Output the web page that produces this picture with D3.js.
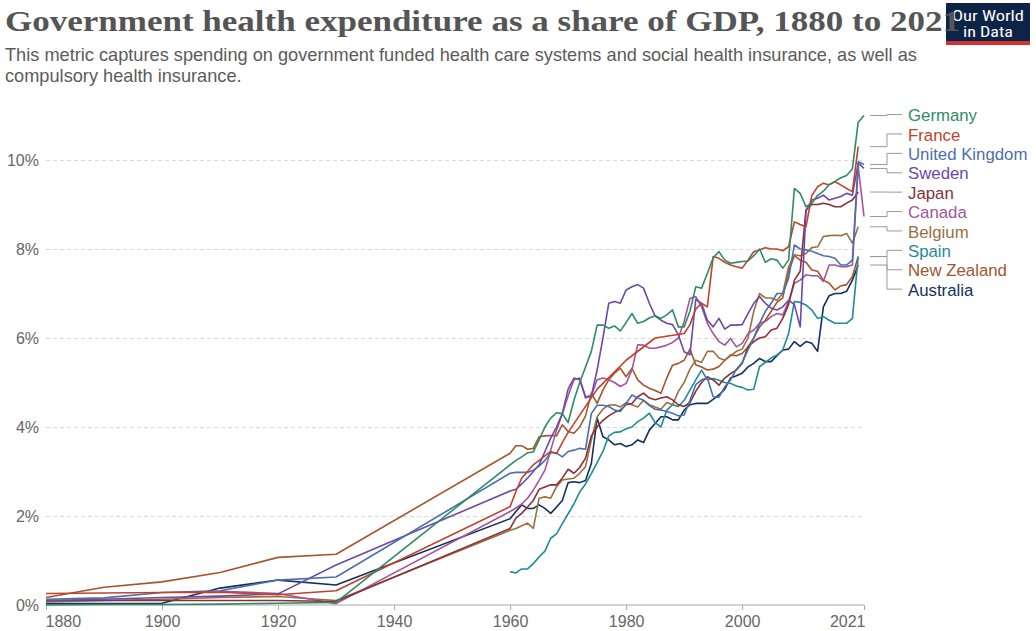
<!DOCTYPE html>
<html><head><meta charset="utf-8">
<script src="https://cdn.jsdelivr.net/npm/d3@7"></script>
<style>body{margin:0;background:#fff} svg{display:block}</style>
</head><body>
<svg id="chart" width="1036" height="631"></svg>
<script>
// ---------- DATA ----------
const years = [1880,1890,1900,1910,1920,1930,
 1960,1961,1962,1963,1964,1965,1966,1967,1968,1969,
 1970,1971,1972,1973,1974,1975,1976,1977,1978,1979,
 1980,1981,1982,1983,1984,1985,1986,1987,1988,1989,
 1990,1991,1992,1993,1994,1995,1996,1997,1998,1999,
 2000,2001,2002,2003,2004,2005,2006,2007,2008,2009,
 2010,2011,2012,2013,2014,2015,2016,2017,2018,2019,
 2020,2021];

const germany = [0.0,0.01,0.01,0.02,0.04,0.06,
 3.15,3.25,3.33,3.42,3.44,3.71,4.0,4.2,4.32,4.3,
 4.1,4.6,5.0,5.35,5.7,6.29,6.29,6.22,6.27,6.16,
 6.35,6.55,6.33,6.37,6.45,6.5,6.44,6.52,6.63,6.25,
 6.25,6.6,7.15,7.12,7.45,7.8,7.94,7.75,7.68,7.7,
 7.72,7.73,7.85,8.0,7.7,7.78,7.75,7.57,7.75,9.36,
 9.25,8.95,9.03,9.2,9.3,9.45,9.52,9.6,9.65,9.8,
 10.85,11.0];

const france = [0.26,0.27,0.28,0.29,0.23,0.32,
 2.21,2.55,2.85,3.0,3.15,3.25,3.35,3.45,3.4,3.65,
 3.88,null,null,null,null,4.85,null,null,null,null,
 5.5,null,null,null,null,6.0,null,null,null,null,
 6.1,6.3,6.65,6.78,6.7,7.83,7.79,7.7,7.64,7.6,
 7.57,7.75,7.94,7.98,8.03,8.0,8.0,7.96,8.05,8.61,
 8.55,8.5,9.2,9.4,9.48,9.44,9.51,9.44,9.36,9.29,
 10.3,null];

const unitedKingdom = [0.13,0.16,0.28,0.32,0.56,0.63,
 2.96,2.98,2.98,2.98,3.03,3.12,3.25,3.42,3.42,3.33,
 3.45,3.48,3.52,3.5,4.3,4.49,4.49,4.46,4.38,4.35,
 4.53,4.72,4.65,4.6,4.48,4.4,4.38,4.35,4.31,4.25,
 4.27,4.6,4.95,5.06,5.1,4.68,4.67,4.9,5.06,5.3,
 5.45,5.73,6.0,6.33,6.6,6.78,7.0,7.0,7.34,8.09,
 8.0,7.98,7.95,7.9,7.85,7.83,7.79,7.64,7.64,7.75,
 9.96,9.9];

const sweden = [0.1,0.13,0.17,0.2,0.25,0.9,
 2.56,2.6,2.72,2.85,3.0,3.15,3.45,3.75,4.0,4.3,
 4.85,5.1,5.06,4.68,4.7,5.28,6.0,6.78,6.82,6.78,
 7.08,7.15,7.2,7.12,6.78,6.49,6.4,6.33,6.3,6.07,
 5.69,5.62,6.87,6.78,6.4,6.25,6.44,6.2,6.29,6.29,
 6.3,6.55,6.78,6.93,6.78,6.67,6.63,6.7,6.85,6.75,
 6.25,8.85,9.1,9.14,9.21,9.1,9.14,9.18,9.25,9.21,
 9.93,9.81];

const japan = [0.1,0.1,0.1,0.1,0.1,0.08,
 1.72,1.95,2.06,2.2,2.35,2.6,2.65,2.7,2.7,2.85,
 3.05,2.96,3.09,3.3,3.8,4.0,4.15,4.25,4.33,4.38,
 4.5,4.53,4.68,4.76,4.65,4.61,4.65,4.68,4.61,4.5,
 4.46,4.55,4.8,5.0,5.13,5.06,4.94,5.1,5.2,5.28,
 5.43,5.8,5.92,6.0,6.03,6.18,6.22,6.44,6.75,7.3,
 7.5,8.88,9.0,9.0,9.03,9.0,8.95,8.95,9.03,9.1,
 9.28,null];

const canada = [null,null,null,0.31,0.26,0.03,
 2.1,2.18,2.27,2.4,2.58,2.8,3.03,3.48,3.93,4.3,
 4.7,5.06,5.1,4.65,4.7,5.06,5.1,5.06,5.0,4.91,
 4.98,5.28,5.85,5.84,5.77,5.77,5.8,5.84,5.9,6.0,
 6.37,6.89,6.93,6.7,6.33,6.1,5.92,5.84,5.99,5.8,
 5.88,6.1,6.18,6.33,6.37,6.48,6.55,6.52,6.82,7.23,
 7.3,7.42,7.4,7.4,7.27,7.64,7.64,7.6,7.6,7.64,
 9.85,8.73];

const belgium = [0.07,0.1,0.13,0.17,0.19,0.1,
 1.68,1.72,1.78,1.84,1.72,2.4,2.43,2.4,2.66,2.81,
 2.83,2.85,2.96,3.11,3.71,4.23,4.4,4.49,4.5,4.45,
 4.55,4.5,4.45,4.6,4.5,4.45,4.4,4.55,4.5,4.8,
 5.0,5.3,5.5,5.45,5.7,5.7,5.55,5.5,5.6,5.7,
 5.75,6.0,6.6,7.0,6.9,6.9,6.85,7.0,7.6,7.87,
 7.85,7.9,8.03,8.05,8.28,8.3,8.31,8.3,8.35,8.13,
 8.5,null];

const spain = [null,null,null,null,null,null,
 0.75,0.72,0.81,0.81,0.93,1.08,1.21,1.5,1.6,1.83,
 2.05,2.27,2.54,2.72,2.95,3.2,3.45,3.8,3.88,3.89,
 3.96,4.0,4.12,4.2,4.31,4.1,4.0,4.38,4.5,4.46,
 4.6,4.83,5.06,5.28,5.06,5.09,5.05,5.0,4.98,4.92,
 4.89,4.83,4.85,5.36,5.45,5.55,5.62,5.73,6.1,6.82,
 6.8,6.74,6.63,6.44,6.48,6.4,6.33,6.33,6.33,6.44,
 7.83,null];

const newZealand = [0.17,0.4,0.52,0.73,1.07,1.14,
 3.41,3.58,3.58,3.5,3.52,3.78,3.8,3.81,3.8,4.05,
 3.9,3.86,4.0,4.25,4.76,4.53,4.83,5.06,5.21,5.32,
 5.13,5.32,5.06,4.94,4.87,4.82,4.76,5.1,5.39,5.43,
 5.5,5.75,5.4,5.35,5.28,5.3,5.36,5.5,5.62,5.6,
 5.65,5.8,6.0,6.25,6.4,6.6,6.8,6.9,7.5,7.85,
 7.75,7.7,7.53,7.5,7.3,7.23,7.08,7.17,7.2,7.38,
 7.83,null];

const australia = [0.03,0.03,0.04,0.38,0.56,0.45,
 1.94,2.1,2.25,2.17,2.17,2.25,2.17,2.06,2.2,2.35,
 2.75,2.77,2.75,2.8,3.18,4.2,3.78,3.71,3.6,3.63,
 3.56,3.6,3.71,3.65,3.93,4.08,4.23,4.23,4.16,4.16,
 4.38,4.5,4.53,4.53,4.53,4.62,4.72,4.85,5.1,5.15,
 5.21,5.35,5.43,5.54,5.47,5.47,5.6,5.73,5.75,5.92,
 5.81,5.92,5.88,5.7,6.7,6.95,7.0,7.0,7.05,7.3,
 7.64,null];

const seriesNames = ["Germany","France","United Kingdom","Sweden","Japan","Canada","Belgium","Spain","New Zealand","Australia"];
const seriesValues = [germany,france,unitedKingdom,sweden,japan,canada,belgium,spain,newZealand,australia];
const xTickValues = [1880,1900,1920,1940,1960,1980,2000,2021];
const yTickValues = [0,2,4,6,8,10];

// ---------- STYLE ----------
const colors = ["#2f8a66","#c2422b","#4a6fb0","#6c48a8","#883039","#a2559c","#98703e","#1f8b98","#a4552c","#132f5e"];
const FONT = "'Liberation Sans', Arial, sans-serif";
const NARROW = "'Liberation Sans Narrow','Roboto Condensed','Liberation Sans',Arial,sans-serif";

const svg = d3.select("#chart");
const x = d3.scaleLinear().domain([1880, 2021]).range([46, 864]);
const y = d3.scaleLinear().domain([0, 10]).range([605, 160]);

// logo (behind title)
const logo = svg.append("g");
logo.append("rect").attr("x",946).attr("y",3).attr("width",84).attr("height",38).attr("fill","#0d2347");
logo.append("rect").attr("x",946).attr("y",41).attr("width",84).attr("height",4).attr("fill","#d4322c");
logo.append("text").attr("x",988).attr("y",21).attr("text-anchor","middle").attr("fill","#fff")
  .attr("font-family",NARROW).attr("font-size",15).attr("textLength",72).attr("lengthAdjust","spacingAndGlyphs").text("Our World");
logo.append("text").attr("x",988).attr("y",37).attr("text-anchor","middle").attr("fill","#fff")
  .attr("font-family",NARROW).attr("font-size",15).attr("textLength",50).attr("lengthAdjust","spacingAndGlyphs").text("in Data");

// title
svg.append("text").attr("x",5).attr("y",31)
  .attr("font-family","'Liberation Serif','DejaVu Serif',serif").attr("font-weight","bold")
  .attr("font-size",30).attr("fill","#555").attr("textLength",955).attr("lengthAdjust","spacingAndGlyphs")
  .text("Government health expenditure as a share of GDP, 1880 to 2021");

// subtitle
const sub = ["This metric captures spending on government funded health care systems and social health insurance, as well as",
             "compulsory health insurance."];
svg.selectAll("text.sub").data(sub).enter().append("text").attr("class","sub")
  .attr("x",5).attr("y",(d,i)=>61+i*20.5).attr("font-family",FONT).attr("font-size",18.2).attr("fill","#5b5b5b").text(d=>d);

// y grid + labels
const yAxis = d3.axisLeft(y).tickValues(yTickValues).tickFormat(d=>d+"%").tickSize(0).tickPadding(7);
const gy = svg.append("g").attr("transform","translate(46,0)").call(yAxis);
gy.select(".domain").remove();
gy.selectAll("text").attr("font-family",FONT).attr("font-size",16).attr("fill","#666");
gy.selectAll(".tick").filter(d=>d!==0).append("line").attr("x1",0).attr("x2",818)
  .attr("stroke","#d9d9d9").attr("stroke-dasharray","4,3");

// x axis
const xAxis = d3.axisBottom(x).tickValues(xTickValues).tickFormat(d=>String(d)).tickSize(5).tickPadding(6);
const gx = svg.append("g").attr("transform","translate(0,605)").call(xAxis);
gx.select(".domain").attr("stroke","#aaa").attr("d","M46,0H864");
gx.selectAll(".tick line").attr("stroke","#aaa");
gx.selectAll("text").attr("font-family",FONT).attr("font-size",16).attr("fill","#666")
  .attr("text-anchor",d=> d===1880 ? "start" : (d===2021 ? "end" : "middle"))
  .attr("dx", d=> d===1880 ? -1 : (d===2021 ? 1 : 0));

// lines
const line = d3.line().x(d=>x(d.year)).y(d=>y(d.value));
const series = seriesNames.map((name,i)=>({
  name, color: colors[i],
  points: years.map((yr,j)=>({year:yr, value:seriesValues[i][j]})).filter(p=>p.value!==null)
}));
svg.append("g").selectAll("path").data(series.slice().reverse()).enter().append("path")
  .attr("d",s=>line(s.points)).attr("fill","none").attr("stroke",s=>s.color)
  .attr("stroke-width",1.6).attr("stroke-linejoin","round");

// legend label placement (cluster relaxation)
const spacing = 19.4;
let labels = series.map(s=>({s, target: y(s.points[s.points.length-1].value)}))
  .sort((a,b)=>a.target-b.target);
let clusters = labels.map(l=>({items:[l]}));
function place(c){ const m=d3.mean(c.items,l=>l.target); const n=c.items.length;
  c.items.forEach((l,k)=>l.pos=m+(k-(n-1)/2)*spacing); }
clusters.forEach(place);
let merged=true;
while(merged){ merged=false;
  for(let i=0;i<clusters.length-1;i++){
    const a=clusters[i], b=clusters[i+1];
    if(b.items[0].pos - a.items[a.items.length-1].pos < spacing-0.01){
      a.items=a.items.concat(b.items); clusters.splice(i+1,1); place(a); merged=true; break; }
  }
}
const lg = svg.append("g");
labels.forEach(l=>{
  const y0=l.target, y1=l.pos+1;
  lg.append("path").attr("d",`M870,${y0}H887V${y1}H902`).attr("fill","none").attr("stroke","#9a9a9a").attr("stroke-width",1);
  lg.append("text").attr("x",908).attr("y",y1).attr("dy","0.4em").attr("font-family",FONT)
    .attr("font-size",16.8).attr("fill",l.s.color).text(l.s.name);
});
</script>
</body></html>
